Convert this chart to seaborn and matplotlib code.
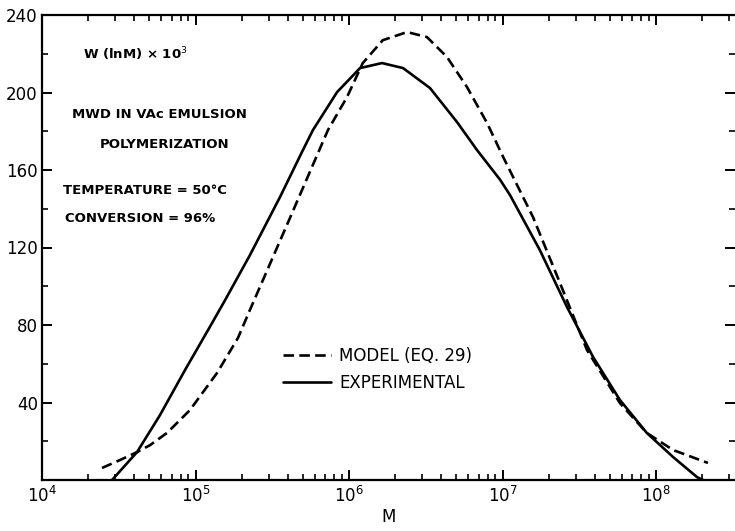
import matplotlib
matplotlib.use("Agg")
import matplotlib.pyplot as plt
import matplotlib.ticker as mticker
import seaborn as sns
import pandas as pd
import numpy as np

# Experimental MWD (solid)
exp_M = [2.86e4, 4.16e4, 5.87e4, 8.55e4, 1.24e5, 1.56e5, 2.26e5, 3.55e5, 5.01e5,
         5.82e5, 8.36e5, 1.18e6, 1.64e6, 2.25e6, 3.37e6, 5.06e6, 6.82e6, 9.64e6,
         1.12e7, 1.75e7, 2.63e7, 3.89e7, 5.82e7, 8.71e7, 1.29e8, 1.85e8, 2.02e8]
exp_W = [0, 14.4, 33.5, 56.8, 79, 92.9, 116, 146, 170.3,
         180.6, 200.2, 212.6, 215.2, 212.6, 202.3, 184.7, 170.3, 155,
         147, 118.7, 89.3, 63.5, 41.3, 24.3, 11.9, 1.5, 0]

# Model (Eq. 29) MWD (dashed)
model_M = [2.46e4, 3.22e4, 4.16e4, 5.06e4, 6.52e4, 9.20e4, 1.38e5, 1.89e5, 2.26e5,
           4.06e5, 7.29e5, 9.70e5, 1.23e6, 1.66e6, 2.39e6, 3.22e6, 4.35e6, 5.87e6,
           7.94e6, 1.01e7, 1.58e7, 2.37e7, 3.55e7, 5.82e7, 8.71e7, 1.29e8, 2.18e8]
model_W = [6.2, 10.3, 14.4, 18, 24.3, 36.1, 55.2, 73.3, 87.7,
           134, 180.6, 197.6, 215.2, 227, 231.2, 228.6, 218.3, 202.8,
           184.2, 166.7, 135.7, 101.6, 67.1, 39.7, 24.3, 15.5, 8.8]

series_labels = ["MODEL (EQ. 29)", "EXPERIMENTAL"]
y_ticks = [40, 80, 120, 160, 200, 240]
annotations = ["W (lnM) × 10$^{3}$", "MWD IN VAc EMULSION", "POLYMERIZATION",
               "TEMPERATURE = 50°C", "CONVERSION = 96%"]

df = pd.concat([
    pd.DataFrame({"M": model_M, "W": model_W, "series": series_labels[0]}),
    pd.DataFrame({"M": exp_M, "W": exp_W, "series": series_labels[1]}),
])

sns.set_style("white")
plt.rcParams["font.family"] = ["DejaVu Sans"]
plt.rcParams["text.color"] = "black"
plt.rcParams["axes.labelcolor"] = "black"
plt.rcParams["xtick.color"] = "black"
plt.rcParams["ytick.color"] = "black"

fig = plt.figure(figsize=(7.35, 5.31), dpi=100)
ax = fig.add_axes([42/735, 51/531, 693/735, 465/531])

sns.lineplot(data=df, x="M", y="W", style="series", hue="series",
             palette={series_labels[0]: "black", series_labels[1]: "black"},
             dashes={series_labels[0]: (4, 2), series_labels[1]: ""},
             sort=False, estimator=None, linewidth=1.9, ax=ax)

ax.set_xscale("log")
ax.set_xlim(1e4, 3.27e8)
ax.set_ylim(0, 240)

ax.xaxis.set_major_locator(mticker.LogLocator(base=10, numticks=12))
ax.xaxis.set_minor_locator(mticker.LogLocator(base=10, subs=np.arange(2, 10), numticks=12))
ax.xaxis.set_major_formatter(mticker.FuncFormatter(lambda v, p: r"$10^{%d}$" % round(np.log10(v))))
ax.xaxis.set_minor_formatter(mticker.NullFormatter())
ax.set_yticks(y_ticks)
ax.yaxis.set_minor_locator(mticker.MultipleLocator(20))

ax.tick_params(axis="both", which="major", direction="in", length=7, width=1.4,
               labelsize=12, color="black", labelcolor="black")
ax.tick_params(axis="both", which="minor", direction="in", length=4.5, width=1.2, color="black")
ax.tick_params(axis="y", which="both", left=True, right=True, pad=3)
ax.tick_params(axis="x", which="both", bottom=True, top=True, pad=4)

for side in ["left", "bottom", "top"]:
    ax.spines[side].set_linewidth(1.6)
    ax.spines[side].set_color("black")
ax.spines["right"].set_visible(False)

ax.set_xlabel("M", fontsize=12, labelpad=2, color="black")
ax.set_ylabel("")

# annotations (figure pixel positions converted to axes fraction)
def fx(px):
    return (px - 42) / 693
def fy(py):
    return (480 - py) / 465

text_kw = dict(fontsize=9.5, fontweight="bold", va="center", ha="left",
               color="black", transform=ax.transAxes)
ax.text(fx(83), fy(54), annotations[0], **text_kw)
ax.text(fx(72), fy(115), annotations[1], **text_kw)
ax.text(fx(100), fy(145), annotations[2], **text_kw)
ax.text(fx(63), fy(190), annotations[3], **text_kw)
ax.text(fx(65), fy(218), annotations[4], **text_kw)

handles, labels = ax.get_legend_handles_labels()
leg = ax.legend(handles, labels, loc="upper left", bbox_to_anchor=(fx(276), fy(340)),
                frameon=False, fontsize=12, handlelength=2.9, handletextpad=0.5,
                labelspacing=0.55, borderaxespad=0)
for t in leg.get_texts():
    t.set_color("black")

fig.savefig("out.png", dpi=100)
